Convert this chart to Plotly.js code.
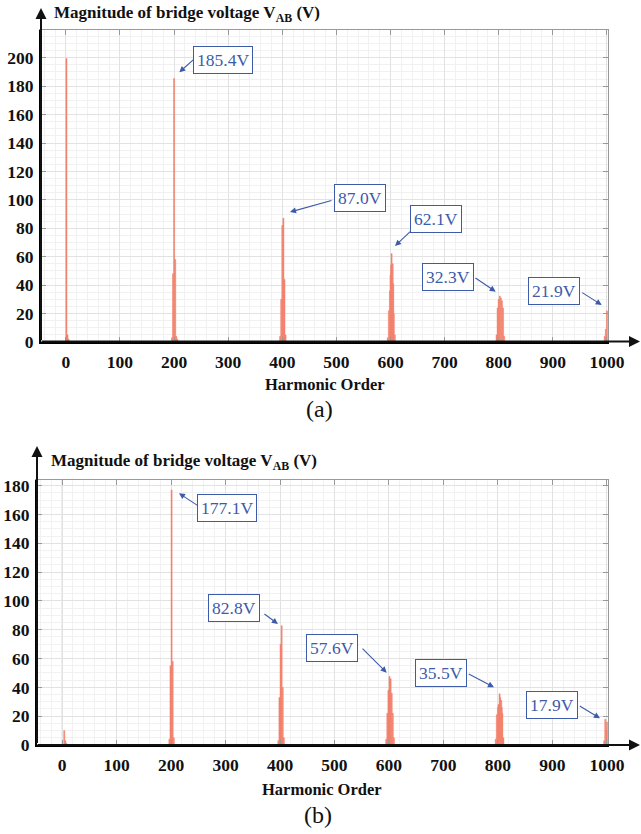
<!DOCTYPE html>
<html>
<head>
<meta charset="utf-8">
<script src="https://cdn.plot.ly/plotly-3.0.1.min.js"></script>
<style>html,body{margin:0;padding:0;background:#fff;}#chart{width:641px;height:834px;}</style>
</head>
<body>
<div id="chart"></div>
<script>
// ---------- data ----------
const harmonicsA = [1, 3, 5, 196, 198, 200, 202, 204, 206, 396, 398, 400, 402, 404, 406,
  595, 597, 599, 600, 601, 602, 604, 605, 606, 608,
  796, 798, 800, 802, 804, 806, 808, 810, 996, 998, 1000];
const magnitudesA = [199.5, 5, 2, 3, 48, 185.4, 58, 4, 2, 4, 30, 82, 87.0, 44, 5,
  3, 22, 36, 47, 54, 62.1, 55, 41, 20, 5,
  5, 24, 30, 32.3, 31, 29, 24, 4, 4, 9, 21.9];

const harmonicsB = [4, 6, 8, 197, 199, 201, 203, 205, 397, 399, 401, 403, 405, 407,
  595, 597, 599, 601, 603, 605, 607, 609,
  796, 798, 800, 801, 803, 804, 806, 807, 808, 810, 995, 997, 999, 1000];
const magnitudesB = [10, 3, 1, 4, 55, 177.1, 58, 5, 3, 33, 70, 82.8, 40, 5,
  4, 22, 38, 47.6, 46, 36, 22, 5,
  4, 21, 26, 28, 35.5, 33, 31, 26, 22, 5, 3, 17.9, 10, 16];

const xTickValues = [0, 100, 200, 300, 400, 500, 600, 700, 800, 900, 1000];
const yTickValuesA = [0, 20, 40, 60, 80, 100, 120, 140, 160, 180, 200];
const yTickValuesB = [0, 20, 40, 60, 80, 100, 120, 140, 160, 180];

const labelTextA = ['185.4V', '87.0V', '62.1V', '32.3V', '21.9V'];
const labelHarmA = [200, 402, 602, 802, 1000];
const labelTextB = ['177.1V', '82.8V', '57.6V', '35.5V', '17.9V'];
const labelHarmB = [201, 403, 601, 803, 997];

// ---------- layout helpers (positions / styles only) ----------
const W = 641, H = 834;
const serif = 'Liberation Serif';
const barColor = '#F2806C';
const blue = '#3D5BA9';
// pixel offsets: tip offset from peak, tail relative to tip, box centre offset from peak
const offA = [
  {tx: 5.2, ty: -6.2, ax: 15.7, ay: -14, bx: 49.2, by: -18.5},
  {tx: 6.6, ty: -6.3, ax: 43, ay: -12, bx: 76.6, by: -20.3},
  {tx: 3.4, ty: -7.7, ax: 17, ay: -16, bx: 44.4, by: -35.2},
  {tx: -4.1, ty: -4.4, ax: -21.7, ay: -14.7, bx: -52, by: -19.1},
  {tx: -5.2, ty: -5.9, ax: -21, ay: -13.3, bx: -52.6, by: -19.6}
];
const offB = [
  {tx: 7.4, ty: 3.3, ax: 20.3, ay: 13.4, bx: 55.4, by: 18.3},
  {tx: -3.7, ty: -1.8, ax: -15, ay: -11, bx: -47.7, by: -17.3},
  {tx: -2.8, ty: -3.7, ax: -25.7, ay: -25.7, bx: -57.5, by: -28.9},
  {tx: -5.6, ty: -6.6, ax: -26.7, ay: -14, bx: -58.8, by: -21.1},
  {tx: -5.3, ty: -0.9, ax: -21.7, ay: -13.3, bx: -53.3, by: -14.2}
];

function pxX(p) { return p / W; }
function pxY(p) { return 1 - p / H; }

const tickFont = {family: serif, size: 17.5, weight: 'bold', color: '#111'};

function mainX(domain, anchor) {
  return {
    domain: domain, anchor: anchor, range: [-46, 1002],
    tickmode: 'array', tickvals: xTickValues, ticktext: xTickValues.map(String),
    ticks: 'inside', ticklen: 5, tickwidth: 1, tickcolor: '#999',
    showline: true, linecolor: '#000', linewidth: 2,
    showgrid: true, gridcolor: '#e2e2e2', gridwidth: 1, zeroline: false,
    minor: {dtick: 20, tick0: 0, showgrid: true, gridcolor: '#f1f1f1', gridwidth: 1},
    tickfont: tickFont, ticklabelstandoff: 3, fixedrange: true
  };
}
function mainY(domain, anchor, range, vals) {
  return {
    domain: domain, anchor: anchor, range: range,
    tickmode: 'array', tickvals: vals, ticktext: vals.map(String),
    ticks: 'inside', ticklen: 5, tickwidth: 1, tickcolor: '#999',
    showline: true, linecolor: '#000', linewidth: 2,
    showgrid: true, gridcolor: '#e2e2e2', gridwidth: 1, zeroline: false,
    minor: {dtick: 5, tick0: 0, showgrid: true, gridcolor: '#f1f1f1', gridwidth: 1},
    tickfont: tickFont, ticklabelstandoff: 2, fixedrange: true
  };
}
function mirrorX(over, anchor) {
  return {overlaying: over, anchor: anchor, side: 'top', range: [-46, 1002],
    tickmode: 'array', tickvals: xTickValues, showticklabels: false,
    ticks: 'inside', ticklen: 5, tickcolor: '#999', showline: true, linecolor: '#999',
    linewidth: 1, showgrid: false, zeroline: false, fixedrange: true};
}
function mirrorY(over, anchor, range, vals) {
  return {overlaying: over, anchor: anchor, side: 'right', range: range,
    tickmode: 'array', tickvals: vals, showticklabels: false,
    ticks: 'inside', ticklen: 5, tickcolor: '#999', showline: true, linecolor: '#999',
    linewidth: 1, showgrid: false, zeroline: false, fixedrange: true};
}

const data = [
  {type: 'bar', x: harmonicsA, y: magnitudesA, width: 2, xaxis: 'x', yaxis: 'y',
   marker: {color: barColor, line: {color: barColor, width: 0.5}}, hoverinfo: 'x+y'},
  {type: 'bar', x: harmonicsB, y: magnitudesB, width: 2, xaxis: 'x2', yaxis: 'y2',
   marker: {color: barColor, line: {color: barColor, width: 0.5}}, hoverinfo: 'x+y'},
  {type: 'scatter', x: [], y: [], xaxis: 'x3', yaxis: 'y3', showlegend: false},
  {type: 'scatter', x: [], y: [], xaxis: 'x4', yaxis: 'y4', showlegend: false}
];

const annotations = [];
function addLabels(texts, harms, hs, ms, offs, xr, yr) {
  texts.forEach(function (t, i) {
    const h = harms[i];
    const m = ms[hs.indexOf(h)];
    const o = offs[i];
    annotations.push({xref: xr, yref: yr, x: h, y: m, text: ' ', showarrow: true,
      xshift: o.tx, yshift: -o.ty, ax: o.ax, ay: o.ay,
      font: {family: serif, size: 1},
      arrowhead: 2, arrowsize: 1.1, arrowwidth: 1.1, arrowcolor: blue, standoff: 0});
    annotations.push({xref: xr, yref: yr, x: h, y: m, text: t, showarrow: false,
      xshift: o.bx, yshift: -o.by, xanchor: 'center', yanchor: 'middle',
      font: {family: serif, size: 17.5, color: blue},
      bgcolor: '#fff', bordercolor: blue, borderwidth: 1, borderpad: 3});
  });
}
addLabels(labelTextA, labelHarmA, harmonicsA, magnitudesA, offA, 'x', 'y');
addLabels(labelTextB, labelHarmB, harmonicsB, magnitudesB, offB, 'x2', 'y2');

function axisArrow(tipX, tipY, ax, ay) {
  annotations.push({xref: 'paper', yref: 'paper', x: pxX(tipX), y: pxY(tipY), text: ' ',
    font: {family: serif, size: 1},
    showarrow: true, axref: 'pixel', ayref: 'pixel', ax: ax, ay: ay,
    arrowhead: 2, arrowsize: 1.1, arrowwidth: 2, arrowcolor: '#111', standoff: 0});
}
axisArrow(41, 8, 0, 334);
axisArrow(640, 341.5, -600, 0);
axisArrow(37, 446, 0, 299);
axisArrow(640, 745, -604, 0);

function text(t, x, y, size, bold, anchor) {
  annotations.push({xref: 'paper', yref: 'paper', x: pxX(x), y: pxY(y), text: t,
    showarrow: false, xanchor: anchor || 'center', yanchor: 'middle',
    font: {family: serif, size: size, color: '#111', weight: bold ? 'bold' : 'normal'}});
}
text('Magnitude of bridge voltage V<sub>AB</sub> (V)', 52, 14, 17, true, 'left');
text('Harmonic Order', 325, 384, 16.5, true);
text('(a)', 319, 409, 24, false);
text('Magnitude of bridge voltage V<sub>AB</sub> (V)', 49, 462, 17, true, 'left');
text('Harmonic Order', 322, 789, 16.5, true);
text('(b)', 318, 815, 24, false);

const layout = {
  width: W, height: H, margin: {l: 0, r: 0, t: 0, b: 0},
  paper_bgcolor: '#fff', plot_bgcolor: '#fff', showlegend: false,
  barmode: 'overlay', font: {family: serif},
  xaxis: mainX([pxX(41), pxX(608)], 'y'),
  yaxis: mainY([pxY(342), pxY(30)], 'x', [0, 219.5], yTickValuesA),
  xaxis2: mainX([pxX(37), pxX(608)], 'y2'),
  yaxis2: mainY([pxY(745), pxY(480)], 'x2', [0, 184], yTickValuesB),
  xaxis3: mirrorX('x', 'y'),
  yaxis3: mirrorY('y', 'x', [0, 219.5], yTickValuesA),
  xaxis4: mirrorX('x2', 'y2'),
  yaxis4: mirrorY('y2', 'x2', [0, 184], yTickValuesB),
  shapes: [
    {type: 'line', xref: 'x2', yref: 'y2 domain', x0: 0, x1: 0, y0: 0, y1: 1,
     line: {color: '#c6d7ea', width: 1}, layer: 'below'}
  ],
  annotations: annotations
};

Plotly.newPlot('chart', data, layout, {staticPlot: true});
</script>
</body>
</html>
